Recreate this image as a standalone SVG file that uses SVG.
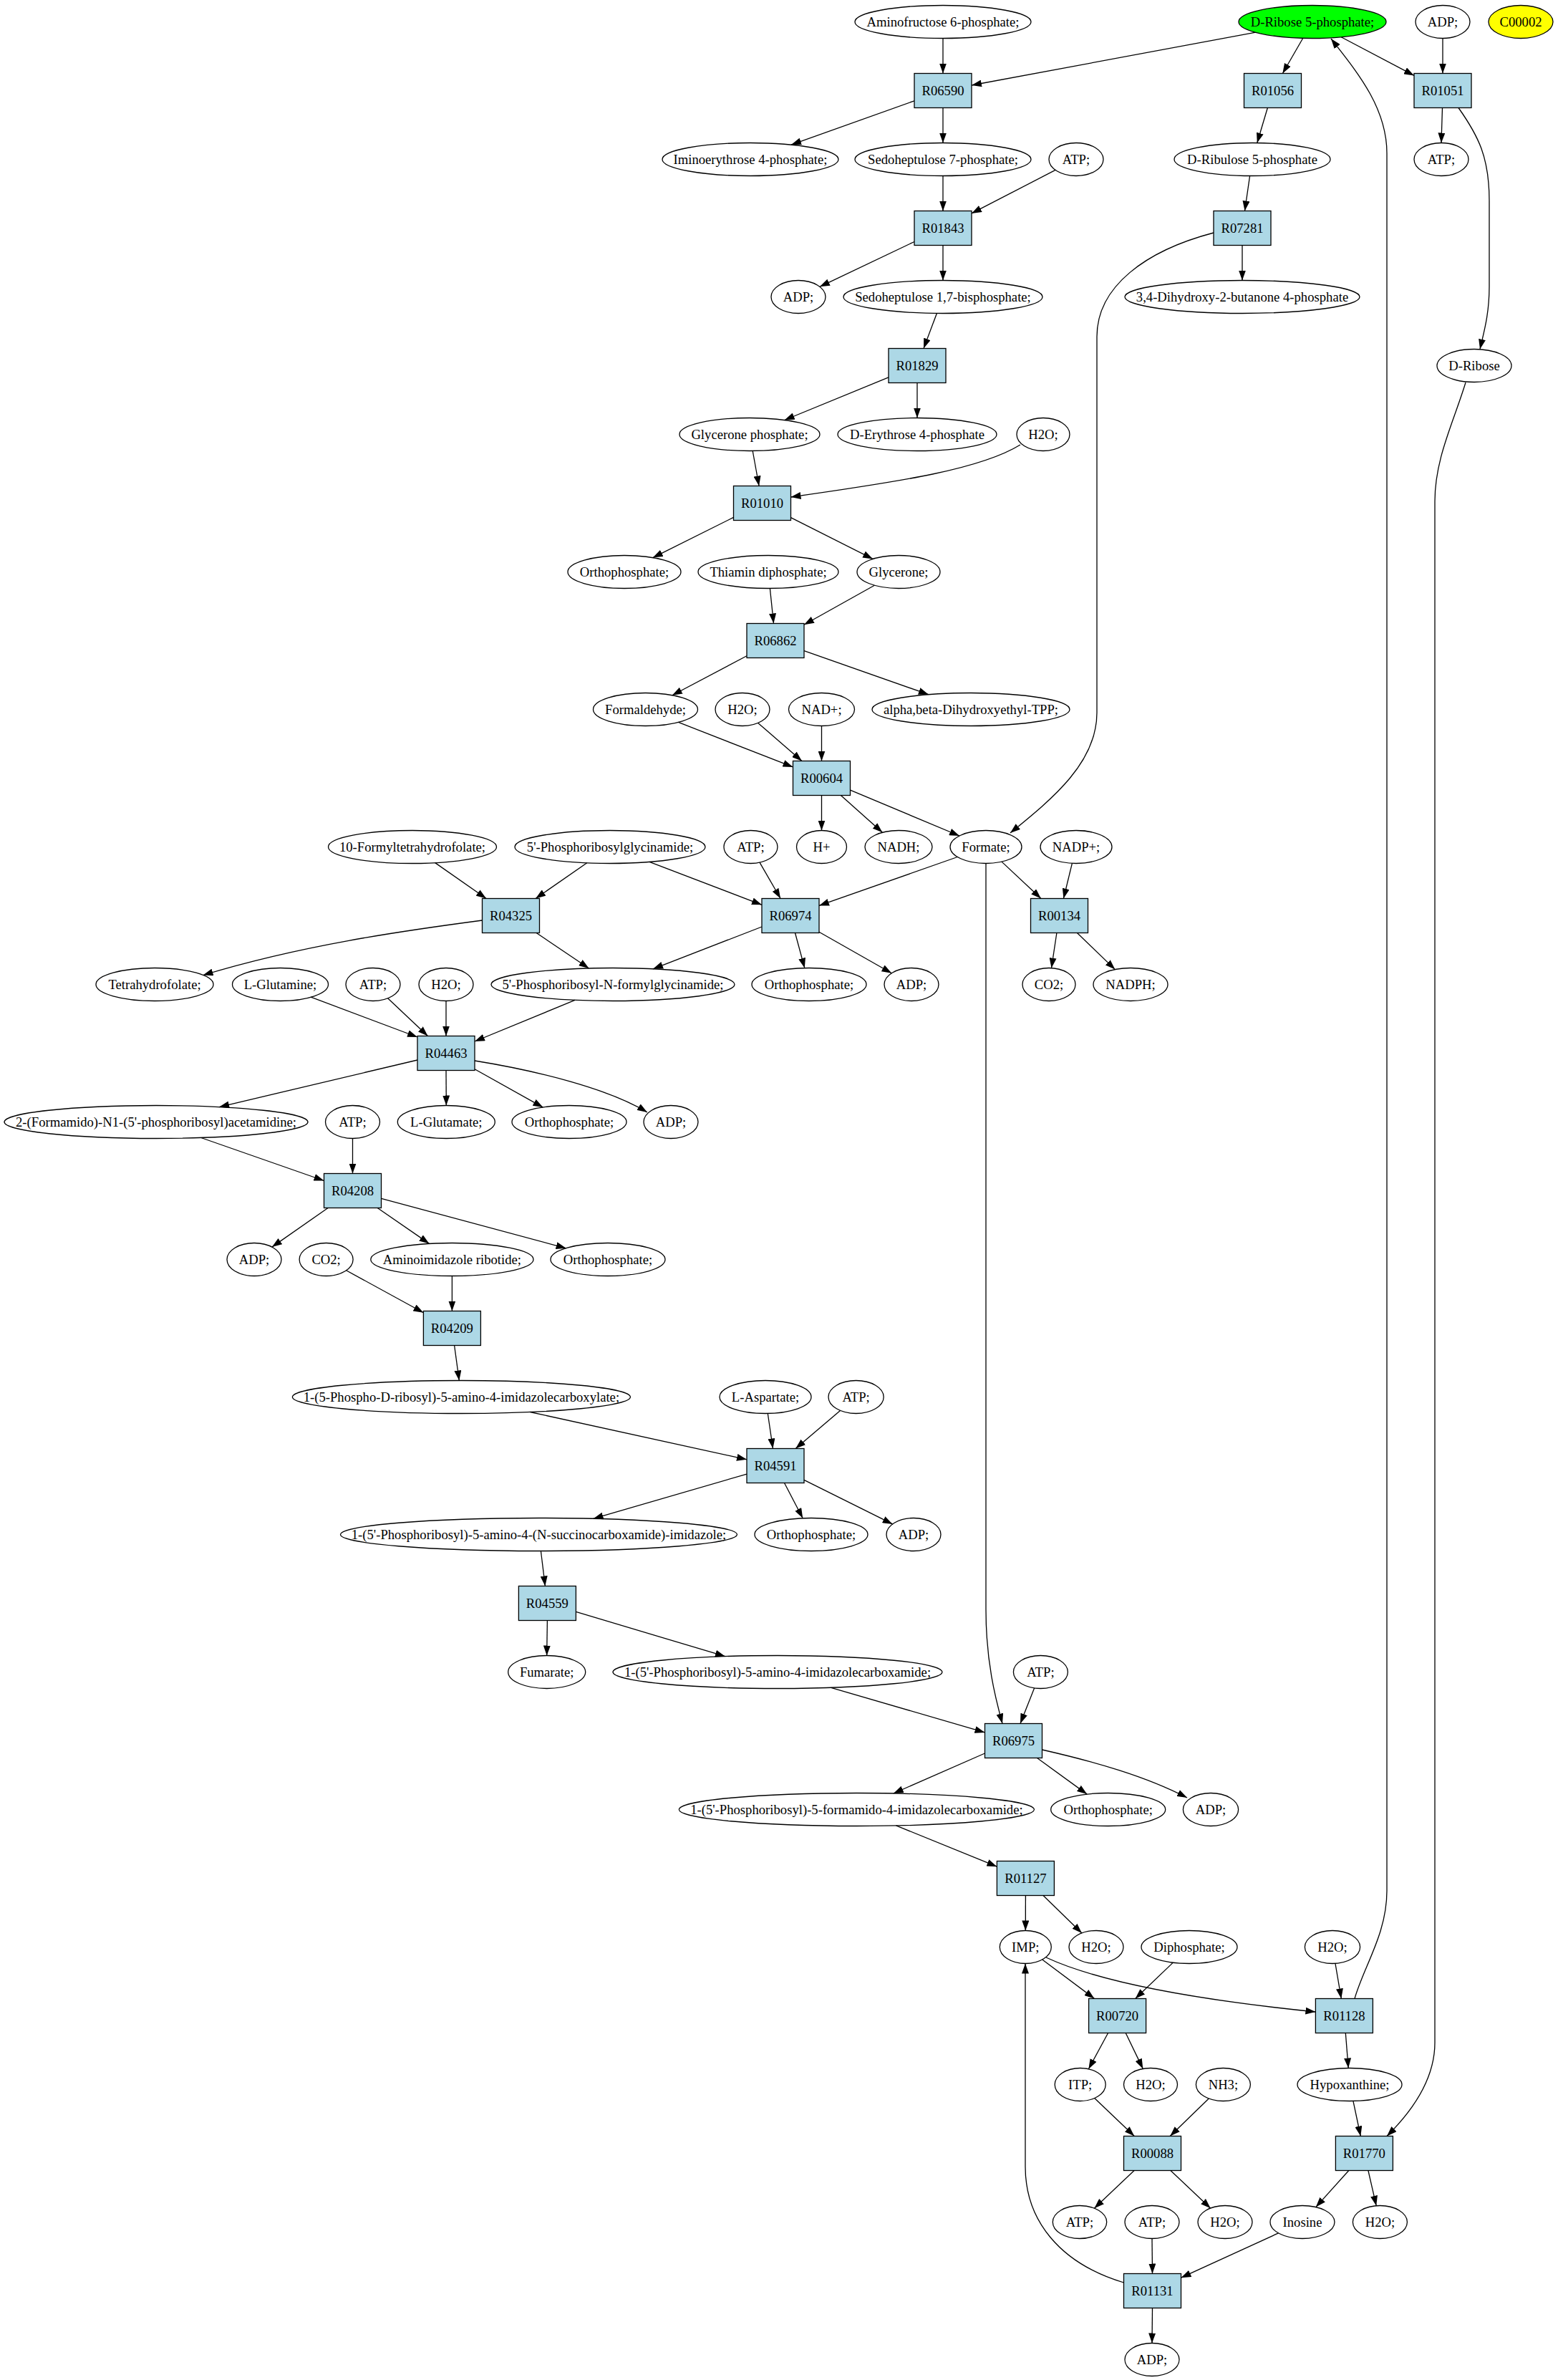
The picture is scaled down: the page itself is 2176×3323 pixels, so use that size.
<svg xmlns="http://www.w3.org/2000/svg" width="2176" height="3323" viewBox="0 0 2176 3323">
<style>
.b{fill:#add8e6;stroke:#000;stroke-width:1.3}
.e{fill:none;stroke:#000;stroke-width:1.3}
.g{fill:#00ff00;stroke:#000;stroke-width:1.3}
.y{fill:#ffff00;stroke:#000;stroke-width:1.3}
text{font-family:"Liberation Serif","Times New Roman",serif;font-size:18.67px;text-anchor:middle;fill:#000}
#edges path{fill:none;stroke:#000;stroke-width:1.3;marker-end:url(#ah)}
</style>
<defs>
<marker id="ah" markerUnits="userSpaceOnUse" markerWidth="14" markerHeight="10" viewBox="0 0 14 10" refX="14" refY="5" orient="auto"><path d="M0,0 L14,5 L0,10 z" fill="#000"/></marker>
</defs>
<rect width="2176" height="3323" fill="#fff"/>
<g id="edges">
<path d="M1317,53.5 L1317,102.5"/>
<path d="M1753.8,45.2 L1357,119"/>
<path d="M1819.8,53.3 L1791.4,102.5"/>
<path d="M1873.2,51.7 L1975,105.4"/>
<path d="M2015,53.5 L2015,102.5"/>
<path d="M1277,140.8 L1105.1,202.1"/>
<path d="M1317,150.5 L1317,199.5"/>
<path d="M1770.4,150.5 L1755.8,199.5"/>
<path d="M2014.5,150.5 L2013,199.5"/>
<path d="M2037,150.5 C2065,190 2080,220 2080,280 L2080,400 C2080,440 2072,465 2067,487.6"/>
<path d="M1317,245.5 L1317,294.5"/>
<path d="M1474.1,237.4 L1357,297.9"/>
<path d="M1745.6,245.5 L1738.5,294.5"/>
<path d="M1277,337.5 L1144.9,400.3"/>
<path d="M1317,342.5 L1317,391.5"/>
<path d="M1735,342.5 L1735,391.5"/>
<path d="M1695,325 C1600,350 1532,400 1532,470 L1532,995 C1532,1065 1470,1115 1411,1163"/>
<path d="M1308.4,437.5 L1290,486.5"/>
<path d="M1241,526.9 L1095.7,586.5"/>
<path d="M1281,534.5 L1281,583.5"/>
<path d="M1051.2,629.5 L1060.1,678.5"/>
<path d="M1425,621 C1370,655 1260,672 1104.5,694"/>
<path d="M1024.5,722.4 L911.8,778.6"/>
<path d="M1104.5,722.7 L1219.1,780.4"/>
<path d="M1075.4,821.5 L1080.5,870.5"/>
<path d="M1221.4,817.3 L1123,872.2"/>
<path d="M1043,915.7 L938.9,970.7"/>
<path d="M1123,908.6 L1296.9,969.7"/>
<path d="M947.4,1008.4 L1107.5,1070.9"/>
<path d="M1058.7,1009.4 L1119.9,1062.5"/>
<path d="M1147.5,1013.5 L1147.5,1062.5"/>
<path d="M1147.5,1110.5 L1147.5,1159.5"/>
<path d="M1174.4,1110.5 L1232.4,1162.3"/>
<path d="M1187.5,1103.2 L1340,1167"/>
<path d="M607.7,1204.6 L679.1,1254.5"/>
<path d="M819.8,1204.8 L748.1,1254.5"/>
<path d="M907,1203.4 L1064,1263.3"/>
<path d="M1061,1204.2 L1090.1,1254.5"/>
<path d="M1337.3,1196.5 L1144,1264.4"/>
<path d="M1399,1203.1 L1453.9,1254.5"/>
<path d="M1497.4,1205.4 L1485.4,1254.5"/>
<path d="M1377,1205.5 L1377,2247 C1377,2320 1390,2370 1400,2406.5"/>
<path d="M673.5,1285 C560,1300 420,1320 283.6,1361.5"/>
<path d="M749.1,1302.5 L822.5,1352"/>
<path d="M1064,1294 L912.1,1352.8"/>
<path d="M1110.5,1302.5 L1123.8,1351.6"/>
<path d="M1144,1301.2 L1245.3,1358.8"/>
<path d="M1475.9,1302.5 L1468.5,1351.6"/>
<path d="M1504.4,1302.5 L1557.3,1353.6"/>
<path d="M434.2,1392.2 L583,1448"/>
<path d="M541.6,1393.8 L597.5,1446.5"/>
<path d="M623,1397.5 L623,1446.5"/>
<path d="M803,1396.4 L663,1454"/>
<path d="M583,1480 L306.2,1545.6"/>
<path d="M623,1494.5 L623.3,1543.5"/>
<path d="M663,1492.8 L758.4,1546.1"/>
<path d="M663,1481 C750,1495 850,1520 904,1553"/>
<path d="M280.8,1588.5 L452.5,1648.5"/>
<path d="M492.5,1589.5 L492.5,1638.5"/>
<path d="M458.1,1686.5 L379.9,1741.1"/>
<path d="M527.2,1686.5 L599.5,1736.4"/>
<path d="M532.5,1673.3 L790.6,1742.8"/>
<path d="M483.6,1773.8 L591.4,1832.7"/>
<path d="M631.4,1781.5 L631.4,1830.5"/>
<path d="M634.6,1878.5 L641.3,1927.5"/>
<path d="M740.4,1971.5 L1043,2037.8"/>
<path d="M1072.3,1973.5 L1079.5,2022.5"/>
<path d="M1173.5,1969.4 L1111.2,2022.5"/>
<path d="M1043,2058.1 L828.6,2120.4"/>
<path d="M1095.5,2070.5 L1121.2,2119.8"/>
<path d="M1123,2066.4 L1246.6,2127.9"/>
<path d="M755.4,2165.5 L761.4,2214.5"/>
<path d="M764.4,2262.5 L763.7,2311.5"/>
<path d="M804.4,2250.4 L1012.9,2312.7"/>
<path d="M1160.7,2356.3 L1375.5,2418.9"/>
<path d="M1444.6,2356.9 L1425,2406.5"/>
<path d="M1375.5,2448 L1247.8,2504"/>
<path d="M1448.5,2454.5 L1518.2,2505.1"/>
<path d="M1455.5,2443 C1530,2460 1600,2480 1658,2510"/>
<path d="M1251.5,2548.9 L1392.4,2606.2"/>
<path d="M1432.4,2646.5 L1432.3,2695.5"/>
<path d="M1457,2646.5 L1510.9,2699"/>
<path d="M1455.7,2736 L1528.5,2790.5"/>
<path d="M1461,2733 C1530,2765 1650,2790 1837.4,2809"/>
<path d="M1638.4,2740.1 L1585.7,2790.5"/>
<path d="M1864.9,2741.2 L1873.3,2790.5"/>
<path d="M1892,2790.5 C1905,2745 1937,2700 1937,2640 L1937,214 C1937,150 1895,100 1859,54"/>
<path d="M1879.3,2838.5 L1883.2,2887.5"/>
<path d="M1547.6,2838.5 L1520.4,2888.8"/>
<path d="M1572.2,2838.5 L1596.3,2888.4"/>
<path d="M1528.7,2929.5 L1584.3,2982.5"/>
<path d="M1688.3,2930 L1634.2,2982.5"/>
<path d="M1889.9,2933.4 L1900.3,2982.5"/>
<path d="M2047,534 C2030,590 2004,640 2004,700 L2004,2852 C2004,2900 1975,2945 1937,2982.5"/>
<path d="M1584.1,3030.5 L1528.4,3083.2"/>
<path d="M1634.9,3030.5 L1690.7,3083.2"/>
<path d="M1883.8,3030.5 L1837.8,3081.6"/>
<path d="M1910.9,3030.5 L1922.2,3079.7"/>
<path d="M1609,3125.5 L1609.5,3174.5"/>
<path d="M1785.5,3117.9 L1649.5,3180.2"/>
<path d="M1569.5,3187 C1480,3160 1432,3100 1432,3025 L1432,2741.5"/>
<path d="M1609.5,3222.5 L1609,3271.5"/>
</g>
<g id="R06590"><rect class="b" x="1277" y="102.5" width="80" height="48"/><text x="1317" y="132.5">R06590</text></g>
<g id="R01056"><rect class="b" x="1737.5" y="102.5" width="80" height="48"/><text x="1777.5" y="132.5">R01056</text></g>
<g id="R01051"><rect class="b" x="1975" y="102.5" width="80" height="48"/><text x="2015" y="132.5">R01051</text></g>
<g id="R01843"><rect class="b" x="1277" y="294.5" width="80" height="48"/><text x="1317" y="324.5">R01843</text></g>
<g id="R07281"><rect class="b" x="1695" y="294.5" width="80" height="48"/><text x="1735" y="324.5">R07281</text></g>
<g id="R01829"><rect class="b" x="1241" y="486.5" width="80" height="48"/><text x="1281" y="516.5">R01829</text></g>
<g id="R01010"><rect class="b" x="1024.5" y="678.5" width="80" height="48"/><text x="1064.5" y="708.5">R01010</text></g>
<g id="R06862"><rect class="b" x="1043" y="870.5" width="80" height="48"/><text x="1083" y="900.5">R06862</text></g>
<g id="R00604"><rect class="b" x="1107.5" y="1062.5" width="80" height="48"/><text x="1147.5" y="1092.5">R00604</text></g>
<g id="R04325"><rect class="b" x="673.5" y="1254.5" width="80" height="48"/><text x="713.5" y="1284.5">R04325</text></g>
<g id="R06974"><rect class="b" x="1064" y="1254.5" width="80" height="48"/><text x="1104" y="1284.5">R06974</text></g>
<g id="R00134"><rect class="b" x="1439.5" y="1254.5" width="80" height="48"/><text x="1479.5" y="1284.5">R00134</text></g>
<g id="R04463"><rect class="b" x="583" y="1446.5" width="80" height="48"/><text x="623" y="1476.5">R04463</text></g>
<g id="R04208"><rect class="b" x="452.5" y="1638.5" width="80" height="48"/><text x="492.5" y="1668.5">R04208</text></g>
<g id="R04209"><rect class="b" x="591.4" y="1830.5" width="80" height="48"/><text x="631.4" y="1860.5">R04209</text></g>
<g id="R04591"><rect class="b" x="1043" y="2022.5" width="80" height="48"/><text x="1083" y="2052.5">R04591</text></g>
<g id="R04559"><rect class="b" x="724.4" y="2214.5" width="80" height="48"/><text x="764.4" y="2244.5">R04559</text></g>
<g id="R06975"><rect class="b" x="1375.5" y="2406.5" width="80" height="48"/><text x="1415.5" y="2436.5">R06975</text></g>
<g id="R01127"><rect class="b" x="1392.4" y="2598.5" width="80" height="48"/><text x="1432.4" y="2628.5">R01127</text></g>
<g id="R00720"><rect class="b" x="1520.6" y="2790.5" width="80" height="48"/><text x="1560.6" y="2820.5">R00720</text></g>
<g id="R01128"><rect class="b" x="1837.4" y="2790.5" width="80" height="48"/><text x="1877.4" y="2820.5">R01128</text></g>
<g id="R00088"><rect class="b" x="1569.5" y="2982.5" width="80" height="48"/><text x="1609.5" y="3012.5">R00088</text></g>
<g id="R01770"><rect class="b" x="1865.4" y="2982.5" width="80" height="48"/><text x="1905.4" y="3012.5">R01770</text></g>
<g id="R01131"><rect class="b" x="1569.5" y="3174.5" width="80" height="48"/><text x="1609.5" y="3204.5">R01131</text></g>
<g id="c01"><ellipse class="e" cx="1317" cy="30.5" rx="123" ry="23"/><text x="1317" y="36.5">Aminofructose 6-phosphate;</text></g>
<g id="c02"><ellipse class="g" cx="1833" cy="30.5" rx="103" ry="23"/><text x="1833" y="36.5">D-Ribose 5-phosphate;</text></g>
<g id="c03"><ellipse class="e" cx="2015" cy="30.5" rx="38" ry="23"/><text x="2015" y="36.5">ADP;</text></g>
<g id="c04"><ellipse class="y" cx="2124" cy="30.5" rx="45" ry="23"/><text x="2124" y="36.5">C00002</text></g>
<g id="c05"><ellipse class="e" cx="1048" cy="222.5" rx="123" ry="23"/><text x="1048" y="228.5">Iminoerythrose 4-phosphate;</text></g>
<g id="c06"><ellipse class="e" cx="1317" cy="222.5" rx="123" ry="23"/><text x="1317" y="228.5">Sedoheptulose 7-phosphate;</text></g>
<g id="c07"><ellipse class="e" cx="1503" cy="222.5" rx="38" ry="23"/><text x="1503" y="228.5">ATP;</text></g>
<g id="c08"><ellipse class="e" cx="1749" cy="222.5" rx="109" ry="23"/><text x="1749" y="228.5">D-Ribulose 5-phosphate</text></g>
<g id="c09"><ellipse class="e" cx="2013" cy="222.5" rx="38" ry="23"/><text x="2013" y="228.5">ATP;</text></g>
<g id="c10"><ellipse class="e" cx="1115" cy="414.5" rx="38" ry="23"/><text x="1115" y="420.5">ADP;</text></g>
<g id="c11"><ellipse class="e" cx="1317" cy="414.5" rx="139" ry="23"/><text x="1317" y="420.5">Sedoheptulose 1,7-bisphosphate;</text></g>
<g id="c12"><ellipse class="e" cx="1735" cy="414.5" rx="164" ry="23"/><text x="1735" y="420.5">3,4-Dihydroxy-2-butanone 4-phosphate</text></g>
<g id="c13"><ellipse class="e" cx="2059" cy="510.5" rx="52" ry="23"/><text x="2059" y="516.5">D-Ribose</text></g>
<g id="c14"><ellipse class="e" cx="1047" cy="606.5" rx="98" ry="23"/><text x="1047" y="612.5">Glycerone phosphate;</text></g>
<g id="c15"><ellipse class="e" cx="1281" cy="606.5" rx="111" ry="23"/><text x="1281" y="612.5">D-Erythrose 4-phosphate</text></g>
<g id="c16"><ellipse class="e" cx="1457" cy="606.5" rx="37" ry="23"/><text x="1457" y="612.5">H2O;</text></g>
<g id="c17"><ellipse class="e" cx="872" cy="798.5" rx="79" ry="23"/><text x="872" y="804.5">Orthophosphate;</text></g>
<g id="c18"><ellipse class="e" cx="1073" cy="798.5" rx="98" ry="23"/><text x="1073" y="804.5">Thiamin diphosphate;</text></g>
<g id="c19"><ellipse class="e" cx="1255" cy="798.5" rx="58" ry="23"/><text x="1255" y="804.5">Glycerone;</text></g>
<g id="c20"><ellipse class="e" cx="901.5" cy="990.5" rx="73" ry="23"/><text x="901.5" y="996.5">Formaldehyde;</text></g>
<g id="c21"><ellipse class="e" cx="1037" cy="990.5" rx="38" ry="23"/><text x="1037" y="996.5">H2O;</text></g>
<g id="c22"><ellipse class="e" cx="1147.5" cy="990.5" rx="46" ry="23"/><text x="1147.5" y="996.5">NAD+;</text></g>
<g id="c23"><ellipse class="e" cx="1356" cy="990.5" rx="138" ry="23"/><text x="1356" y="996.5">alpha,beta-Dihydroxyethyl-TPP;</text></g>
<g id="c24"><ellipse class="e" cx="576" cy="1182.5" rx="117.5" ry="23"/><text x="576" y="1188.5">10-Formyltetrahydrofolate;</text></g>
<g id="c25"><ellipse class="e" cx="852" cy="1182.5" rx="133" ry="23"/><text x="852" y="1188.5">5'-Phosphoribosylglycinamide;</text></g>
<g id="c26"><ellipse class="e" cx="1048.5" cy="1182.5" rx="37.5" ry="23"/><text x="1048.5" y="1188.5">ATP;</text></g>
<g id="c27"><ellipse class="e" cx="1147.5" cy="1182.5" rx="35" ry="23"/><text x="1147.5" y="1188.5">H+</text></g>
<g id="c28"><ellipse class="e" cx="1255" cy="1182.5" rx="47" ry="23"/><text x="1255" y="1188.5">NADH;</text></g>
<g id="c29"><ellipse class="e" cx="1377" cy="1182.5" rx="50" ry="23"/><text x="1377" y="1188.5">Formate;</text></g>
<g id="c30"><ellipse class="e" cx="1503" cy="1182.5" rx="50" ry="23"/><text x="1503" y="1188.5">NADP+;</text></g>
<g id="c31"><ellipse class="e" cx="216" cy="1374.5" rx="82" ry="23"/><text x="216" y="1380.5">Tetrahydrofolate;</text></g>
<g id="c32"><ellipse class="e" cx="391.5" cy="1374.5" rx="67" ry="23"/><text x="391.5" y="1380.5">L-Glutamine;</text></g>
<g id="c33"><ellipse class="e" cx="521" cy="1374.5" rx="38" ry="23"/><text x="521" y="1380.5">ATP;</text></g>
<g id="c34"><ellipse class="e" cx="623" cy="1374.5" rx="38" ry="23"/><text x="623" y="1380.5">H2O;</text></g>
<g id="c35"><ellipse class="e" cx="856" cy="1374.5" rx="170" ry="23"/><text x="856" y="1380.5">5'-Phosphoribosyl-N-formylglycinamide;</text></g>
<g id="c36"><ellipse class="e" cx="1130" cy="1374.5" rx="80" ry="23"/><text x="1130" y="1380.5">Orthophosphate;</text></g>
<g id="c37"><ellipse class="e" cx="1273" cy="1374.5" rx="38" ry="23"/><text x="1273" y="1380.5">ADP;</text></g>
<g id="c38"><ellipse class="e" cx="1465" cy="1374.5" rx="37" ry="23"/><text x="1465" y="1380.5">CO2;</text></g>
<g id="c39"><ellipse class="e" cx="1579" cy="1374.5" rx="52" ry="23"/><text x="1579" y="1380.5">NADPH;</text></g>
<g id="c40"><ellipse class="e" cx="218" cy="1566.5" rx="212" ry="23"/><text x="218" y="1572.5">2-(Formamido)-N1-(5'-phosphoribosyl)acetamidine;</text></g>
<g id="c41"><ellipse class="e" cx="492.5" cy="1566.5" rx="38" ry="23"/><text x="492.5" y="1572.5">ATP;</text></g>
<g id="c42"><ellipse class="e" cx="623.3" cy="1566.5" rx="68" ry="23"/><text x="623.3" y="1572.5">L-Glutamate;</text></g>
<g id="c43"><ellipse class="e" cx="795" cy="1566.5" rx="80" ry="23"/><text x="795" y="1572.5">Orthophosphate;</text></g>
<g id="c44"><ellipse class="e" cx="937" cy="1566.5" rx="38" ry="23"/><text x="937" y="1572.5">ADP;</text></g>
<g id="c45"><ellipse class="e" cx="355" cy="1758.5" rx="38" ry="23"/><text x="355" y="1764.5">ADP;</text></g>
<g id="c46"><ellipse class="e" cx="455.6" cy="1758.5" rx="37.5" ry="23"/><text x="455.6" y="1764.5">CO2;</text></g>
<g id="c47"><ellipse class="e" cx="631.4" cy="1758.5" rx="113.6" ry="23"/><text x="631.4" y="1764.5">Aminoimidazole ribotide;</text></g>
<g id="c48"><ellipse class="e" cx="849" cy="1758.5" rx="80" ry="23"/><text x="849" y="1764.5">Orthophosphate;</text></g>
<g id="c49"><ellipse class="e" cx="644.4" cy="1950.5" rx="236" ry="23"/><text x="644.4" y="1956.5">1-(5-Phospho-D-ribosyl)-5-amino-4-imidazolecarboxylate;</text></g>
<g id="c50"><ellipse class="e" cx="1069" cy="1950.5" rx="64" ry="23"/><text x="1069" y="1956.5">L-Aspartate;</text></g>
<g id="c51"><ellipse class="e" cx="1195.6" cy="1950.5" rx="38.6" ry="23"/><text x="1195.6" y="1956.5">ATP;</text></g>
<g id="c52"><ellipse class="e" cx="752.5" cy="2142.5" rx="277" ry="23"/><text x="752.5" y="2148.5">1-(5'-Phosphoribosyl)-5-amino-4-(N-succinocarboxamide)-imidazole;</text></g>
<g id="c53"><ellipse class="e" cx="1133" cy="2142.5" rx="79" ry="23"/><text x="1133" y="2148.5">Orthophosphate;</text></g>
<g id="c54"><ellipse class="e" cx="1276" cy="2142.5" rx="38" ry="23"/><text x="1276" y="2148.5">ADP;</text></g>
<g id="c55"><ellipse class="e" cx="763.7" cy="2334.5" rx="54" ry="23"/><text x="763.7" y="2340.5">Fumarate;</text></g>
<g id="c56"><ellipse class="e" cx="1086" cy="2334.5" rx="230" ry="23"/><text x="1086" y="2340.5">1-(5'-Phosphoribosyl)-5-amino-4-imidazolecarboxamide;</text></g>
<g id="c57"><ellipse class="e" cx="1453.4" cy="2334.5" rx="38" ry="23"/><text x="1453.4" y="2340.5">ATP;</text></g>
<g id="c58"><ellipse class="e" cx="1196.4" cy="2526.5" rx="248" ry="23"/><text x="1196.4" y="2532.5">1-(5'-Phosphoribosyl)-5-formamido-4-imidazolecarboxamide;</text></g>
<g id="c59"><ellipse class="e" cx="1547.7" cy="2526.5" rx="80" ry="23"/><text x="1547.7" y="2532.5">Orthophosphate;</text></g>
<g id="c60"><ellipse class="e" cx="1691" cy="2526.5" rx="38.6" ry="23"/><text x="1691" y="2532.5">ADP;</text></g>
<g id="c61"><ellipse class="e" cx="1432.3" cy="2718.5" rx="36" ry="23"/><text x="1432.3" y="2724.5">IMP;</text></g>
<g id="c62"><ellipse class="e" cx="1531" cy="2718.5" rx="38" ry="23"/><text x="1531" y="2724.5">H2O;</text></g>
<g id="c63"><ellipse class="e" cx="1661" cy="2718.5" rx="67" ry="23"/><text x="1661" y="2724.5">Diphosphate;</text></g>
<g id="c64"><ellipse class="e" cx="1861" cy="2718.5" rx="38.6" ry="23"/><text x="1861" y="2724.5">H2O;</text></g>
<g id="c65"><ellipse class="e" cx="1508.7" cy="2910.5" rx="35.5" ry="23"/><text x="1508.7" y="2916.5">ITP;</text></g>
<g id="c66"><ellipse class="e" cx="1607" cy="2910.5" rx="37.5" ry="23"/><text x="1607" y="2916.5">H2O;</text></g>
<g id="c67"><ellipse class="e" cx="1708.4" cy="2910.5" rx="38" ry="23"/><text x="1708.4" y="2916.5">NH3;</text></g>
<g id="c68"><ellipse class="e" cx="1885" cy="2910.5" rx="73" ry="23"/><text x="1885" y="2916.5">Hypoxanthine;</text></g>
<g id="c69"><ellipse class="e" cx="1508" cy="3102.5" rx="37.7" ry="23"/><text x="1508" y="3108.5">ATP;</text></g>
<g id="c70"><ellipse class="e" cx="1609" cy="3102.5" rx="38" ry="23"/><text x="1609" y="3108.5">ATP;</text></g>
<g id="c71"><ellipse class="e" cx="1711" cy="3102.5" rx="38" ry="23"/><text x="1711" y="3108.5">H2O;</text></g>
<g id="c72"><ellipse class="e" cx="1819" cy="3102.5" rx="45" ry="23"/><text x="1819" y="3108.5">Inosine</text></g>
<g id="c73"><ellipse class="e" cx="1927.4" cy="3102.5" rx="38" ry="23"/><text x="1927.4" y="3108.5">H2O;</text></g>
<g id="c74"><ellipse class="e" cx="1609" cy="3294.5" rx="38" ry="23"/><text x="1609" y="3300.5">ADP;</text></g>
</svg>
